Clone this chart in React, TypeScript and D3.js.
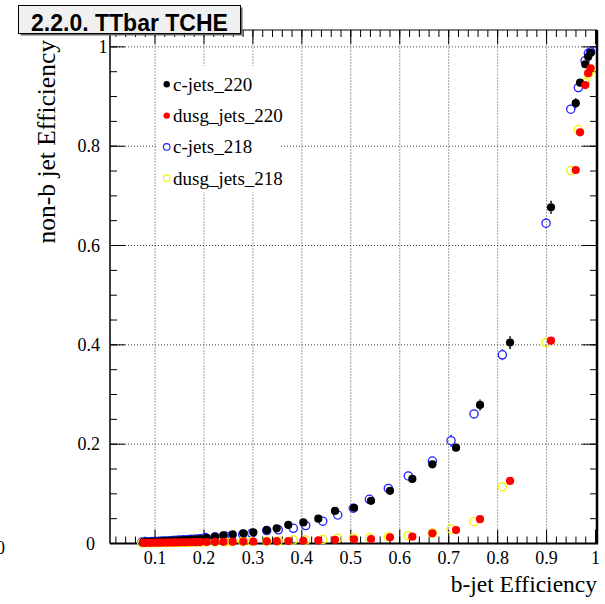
import React from "react";
import * as d3 from "d3";

// c-jets_220 (black) and dusg_jets_220 (red) share the b-jet efficiency values
const effB220 = [0.076, 0.083, 0.09, 0.097, 0.104, 0.111, 0.118, 0.125, 0.132, 0.139, 0.146, 0.153, 0.16, 0.168, 0.176, 0.184, 0.192, 0.2056, 0.2225, 0.2395, 0.2587, 0.2804, 0.3008, 0.3282, 0.3486, 0.3723, 0.403, 0.4336, 0.4677, 0.5066, 0.5413, 0.5801, 0.6257, 0.6666, 0.715, 0.764, 0.8254, 0.909, 0.9596, 0.9684, 0.979, 0.985, 0.99];
const cJets220 = [0.003, 0.0032, 0.0035, 0.0038, 0.004, 0.0043, 0.0046, 0.005, 0.0053, 0.0056, 0.006, 0.0064, 0.0068, 0.0072, 0.0077, 0.0083, 0.009, 0.0115, 0.0135, 0.0165, 0.0185, 0.0205, 0.0225, 0.027, 0.0305, 0.0375, 0.0425, 0.05, 0.0655, 0.072, 0.086, 0.106, 0.13, 0.1595, 0.193, 0.279, 0.4045, 0.677, 0.8866, 0.928, 0.965, 0.98, 0.988];
const cJets220Err = [0.0005, 0.0005, 0.0005, 0.0005, 0.0005, 0.0005, 0.0006, 0.0006, 0.0006, 0.0006, 0.0007, 0.0007, 0.0007, 0.0008, 0.0008, 0.0008, 0.0009, 0.001, 0.001, 0.0012, 0.0013, 0.0014, 0.0015, 0.0017, 0.0018, 0.002, 0.0022, 0.0025, 0.003, 0.0032, 0.0036, 0.004, 0.0046, 0.0052, 0.006, 0.011, 0.013, 0.013, 0.01, 0.008, 0.005, 0.004, 0.003];
const dusgJets220 = [0.0012, 0.0013, 0.0014, 0.0015, 0.0016, 0.0017, 0.0018, 0.0019, 0.002, 0.0021, 0.0022, 0.0023, 0.0024, 0.0025, 0.0026, 0.0027, 0.0028, 0.003, 0.0032, 0.0034, 0.0036, 0.0038, 0.004, 0.0043, 0.0046, 0.005, 0.0055, 0.0062, 0.0075, 0.0085, 0.009, 0.0125, 0.0137, 0.0205, 0.027, 0.049, 0.126, 0.4085, 0.752, 0.828, 0.923, 0.947, 0.957];
const dusgJets220Err = [0.0002, 0.0002, 0.0002, 0.0002, 0.0002, 0.0002, 0.0002, 0.0002, 0.0002, 0.0002, 0.0002, 0.0002, 0.0002, 0.0002, 0.0002, 0.0002, 0.0002, 0.0003, 0.0003, 0.0003, 0.0003, 0.0003, 0.0003, 0.0003, 0.0003, 0.0004, 0.0004, 0.0004, 0.0005, 0.0005, 0.0005, 0.0006, 0.0006, 0.0008, 0.001, 0.0015, 0.003, 0.006, 0.006, 0.005, 0.004, 0.003, 0.003];

// c-jets_218 (blue) and dusg_jets_218 (yellow) share the b-jet efficiency values
const effB218 = [0.073, 0.08, 0.087, 0.094, 0.101, 0.108, 0.115, 0.122, 0.129, 0.136, 0.143, 0.15, 0.158, 0.166, 0.174, 0.183, 0.192, 0.2025, 0.2225, 0.243, 0.2567, 0.2791, 0.2975, 0.3282, 0.3519, 0.3825, 0.4079, 0.4426, 0.4733, 0.5051, 0.538, 0.5767, 0.6175, 0.6666, 0.7048, 0.7518, 0.8096, 0.8989, 0.9494, 0.9649, 0.9786, 0.9853, 0.9903];
const cJets218 = [0.003, 0.0033, 0.0036, 0.0039, 0.0042, 0.0045, 0.0048, 0.0052, 0.0056, 0.006, 0.0064, 0.0068, 0.0073, 0.0078, 0.0084, 0.009, 0.0098, 0.012, 0.0135, 0.015, 0.0157, 0.0185, 0.0205, 0.026, 0.0275, 0.0306, 0.036, 0.045, 0.0574, 0.071, 0.089, 0.111, 0.136, 0.166, 0.207, 0.261, 0.38, 0.645, 0.8745, 0.918, 0.972, 0.987, 0.99];
const cJets218Err = [0.0005, 0.0005, 0.0005, 0.0005, 0.0005, 0.0005, 0.0006, 0.0006, 0.0006, 0.0006, 0.0007, 0.0007, 0.0007, 0.0008, 0.0008, 0.0008, 0.0009, 0.001, 0.001, 0.0012, 0.0013, 0.0014, 0.0015, 0.0017, 0.0018, 0.002, 0.0022, 0.0025, 0.003, 0.0032, 0.0036, 0.004, 0.0046, 0.0052, 0.012, 0.009, 0.011, 0.01, 0.008, 0.006, 0.005, 0.004, 0.003];
const dusgJets218 = [0.0012, 0.0013, 0.0014, 0.0015, 0.0016, 0.0017, 0.0018, 0.0019, 0.002, 0.0021, 0.0022, 0.0023, 0.0024, 0.0025, 0.0026, 0.0027, 0.0028, 0.003, 0.0032, 0.0034, 0.0036, 0.0038, 0.004, 0.0045, 0.005, 0.007, 0.007, 0.008, 0.0105, 0.011, 0.0117, 0.0137, 0.0157, 0.021, 0.029, 0.044, 0.114, 0.4045, 0.751, 0.833, 0.928, 0.945, 0.954];

const seriesNames = ["c-jets_220", "dusg_jets_220", "c-jets_218", "dusg_jets_218"];

const xMajorTicks = [0.1, 0.2, 0.3, 0.4, 0.5, 0.6, 0.7, 0.8, 0.9, 1.0];
const xTickLabels = ["0.1", "0.2", "0.3", "0.4", "0.5", "0.6", "0.7", "0.8", "0.9", "1"];
const yMajorTicks = [0, 0.2, 0.4, 0.6, 0.8, 1.0];
const yTickLabels = ["0", "0.2", "0.4", "0.6", "0.8", "1"];

const W = 605;
const H = 604;
const L = 110, R = 597, T = 30, B = 543.5;
const MR = 4.1;

export default function App() {
  const x = d3.scaleLinear().domain([0.008, 1.003]).range([L, R]);
  const y = d3.scaleLinear().domain([0, 1.034]).range([B, T]);

  const xMinor = d3.range(1, 51).map((i) => i * 0.02).filter((v) => x(v) > L + 1 && x(v) < R - 1);
  const yMinor = d3.range(1, 21).map((i) => i * 0.05).filter((v) => y(v) > T + 1);

  const serif = "'Liberation Serif', 'Times New Roman', serif";

  type S = { name: string; xs: number[]; ys: number[]; err: number[]; color: string; filled: boolean };
  const drawOrder: S[] = [
    { name: seriesNames[2], xs: effB218, ys: cJets218, err: cJets218Err, color: "#1f1fff", filled: false },
    { name: seriesNames[3], xs: effB218, ys: dusgJets218, err: dusgJets220Err, color: "#f2f200", filled: false },
    { name: seriesNames[0], xs: effB220, ys: cJets220, err: cJets220Err, color: "#000000", filled: true },
    { name: seriesNames[1], xs: effB220, ys: dusgJets220, err: dusgJets220Err, color: "#ff0000", filled: true },
  ];
  const legend = [
    { name: seriesNames[0], color: "#000000", filled: true },
    { name: seriesNames[1], color: "#ff0000", filled: true },
    { name: seriesNames[2], color: "#1f1fff", filled: false },
    { name: seriesNames[3], color: "#f2f200", filled: false },
  ];

  return (
    <svg width={W} height={H} style={{ position: "absolute", left: 0, top: 0, background: "#fff" }}>
      <rect x={0} y={0} width={W} height={H} fill="#fff" />
      {/* grid */}
      {xMajorTicks.filter((v) => v < 0.99).map((v) => (
        <line key={"gx" + v} x1={x(v)} x2={x(v)} y1={B} y2={T} stroke="#444" strokeWidth={1} strokeDasharray="1 2" />
      ))}
      {yMajorTicks.filter((v) => v > 0).map((v) => (
        <line key={"gy" + v} x1={L} x2={R} y1={y(v)} y2={y(v)} stroke="#444" strokeWidth={1} strokeDasharray="1 2" />
      ))}
      {/* legend background */}
      <rect x={156} y={66} width={125} height={126} fill="#fff" />
      {/* ticks */}
      <g stroke="#000" strokeWidth={1}>
        {xMajorTicks.map((v) => (
          <g key={"xt" + v}>
            <line x1={x(v)} x2={x(v)} y1={B} y2={B - 14} />
            <line x1={x(v)} x2={x(v)} y1={T} y2={T + 14} />
          </g>
        ))}
        {xMinor.map((v) => (
          <g key={"xm" + v}>
            <line x1={x(v)} x2={x(v)} y1={B} y2={B - 7} />
            <line x1={x(v)} x2={x(v)} y1={T} y2={T + 7} />
          </g>
        ))}
        {yMajorTicks.map((v) => (
          <g key={"yt" + v}>
            <line x1={L} x2={L + 15} y1={y(v)} y2={y(v)} />
            <line x1={R} x2={R - 15} y1={y(v)} y2={y(v)} />
          </g>
        ))}
        {yMinor.map((v) => (
          <g key={"ym" + v}>
            <line x1={L} x2={L + 7} y1={y(v)} y2={y(v)} />
            <line x1={R} x2={R - 7} y1={y(v)} y2={y(v)} />
          </g>
        ))}
      </g>
      {/* frame */}
      <line x1={L} x2={L} y1={T} y2={B} stroke="#000" strokeWidth={1.5} />
      <line x1={L} x2={R} y1={T} y2={T} stroke="#000" strokeWidth={1} />
      <line x1={L} x2={R + 1} y1={B} y2={B} stroke="#000" strokeWidth={2} />
      <line x1={R} x2={R} y1={T} y2={B} stroke="#000" strokeWidth={2.5} />

      {/* data */}
      {drawOrder.map((s) => (
        <g key={s.name}>
          {s.xs.map((xv, i) => {
            const cx = x(xv);
            const cy = y(s.ys[i]);
            const top = y(s.ys[i] + s.err[i]);
            const bot = y(s.ys[i] - s.err[i]);
            return (
              <g key={i}>
                {cy - top > MR && (
                  <>
                    <line x1={cx} x2={cx} y1={top} y2={cy - MR} stroke={s.color} strokeWidth={1.5} />
                    <line x1={cx} x2={cx} y1={cy + MR} y2={bot} stroke={s.color} strokeWidth={1.5} />
                  </>
                )}
                {s.filled ? (
                  <circle cx={cx} cy={cy} r={MR} fill={s.color} />
                ) : (
                  <circle cx={cx} cy={cy} r={MR} fill="none" stroke={s.color} strokeWidth={1.3} />
                )}
              </g>
            );
          })}
        </g>
      ))}

      {/* tick labels */}
      <g fontFamily={serif} fontSize={18} fill="#000">
        {xMajorTicks.map((v, i) => (
          <text key={"xl" + v} x={x(v)} y={564} textAnchor="middle">{xTickLabels[i]}</text>
        ))}
        {yMajorTicks.map((v, i) => {
          const lbl = yTickLabels[i];
          const ax = lbl === "1" ? 107.5 : lbl === "0" ? 95 : 100;
          return (
            <text key={"yl" + v} x={ax} y={y(v) + 6} textAnchor="end">{lbl}</text>
          );
        })}
        <text x={0.5} y={554} textAnchor="middle">0</text>
      </g>

      {/* axis titles */}
      <text x={597} y={592} textAnchor="end" fontFamily={serif} fontSize={23.5}>b-jet Efficiency</text>
      <text transform={`translate(55, 40) rotate(-90)`} textAnchor="end" fontFamily={serif} fontSize={25.5}>non-b jet Efficiency</text>

      {/* legend */}
      {legend.map((l, i) => {
        const ly = 84.3 + i * 31.3;
        return (
          <g key={l.name}>
            {l.filled ? (
              <circle cx={166.7} cy={ly} r={3.2} fill={l.color} />
            ) : (
              <circle cx={166.7} cy={ly} r={3.3} fill="none" stroke={l.color} strokeWidth={1.1} />
            )}
            <text x={173} y={ly + 6.5} fontFamily={serif} fontSize={19}>{l.name}</text>
          </g>
        );
      })}

      {/* title box */}
      <rect x={20.5} y={7.5} width={222} height={28} fill="#666" />
      <rect x={18.5} y={5.5} width={222} height={28} fill="#f0f0f0" stroke="#000" strokeWidth={1} />
      <text x={129.5} y={31} textAnchor="middle" fontFamily="'Liberation Sans', Arial, sans-serif" fontWeight="bold" fontSize={23}>2.2.0. TTbar TCHE</text>
    </svg>
  );
}
